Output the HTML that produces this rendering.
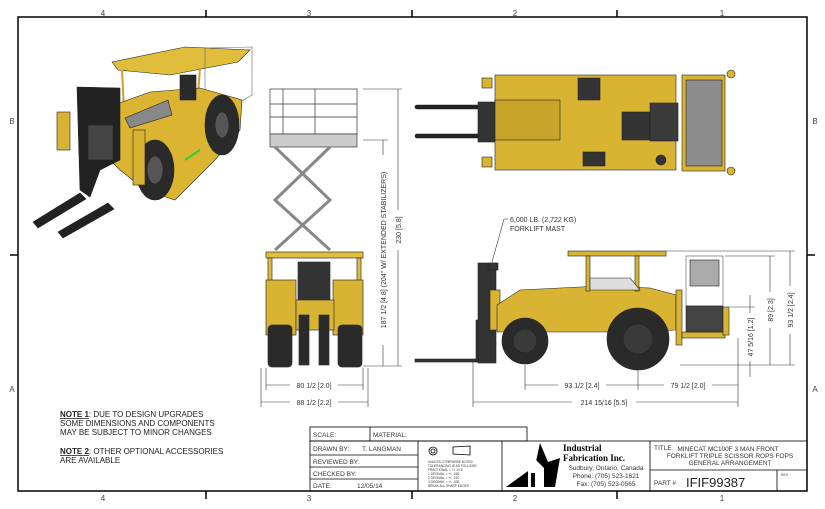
<!DOCTYPE html>
<html><head><meta charset="utf-8"><style>
body{margin:0;background:#fff;}
svg{display:block;font-family:"Liberation Sans",sans-serif;}
</style></head><body>
<svg width="825" height="509" viewBox="0 0 825 509" xmlns="http://www.w3.org/2000/svg">
<!-- frame -->
<rect x="18" y="17" width="789" height="474" fill="none" stroke="#000" stroke-width="1.5"/>
<g stroke="#000" stroke-width="1.5">
<line x1="206" y1="10" x2="206" y2="17"/><line x1="412" y1="10" x2="412" y2="17"/><line x1="617" y1="10" x2="617" y2="17"/>
<line x1="206" y1="491" x2="206" y2="499"/><line x1="412" y1="491" x2="412" y2="499"/><line x1="617" y1="491" x2="617" y2="499"/>
<line x1="10" y1="255" x2="18" y2="255"/><line x1="807" y1="255" x2="815" y2="255"/>
</g>
<g font-size="8" fill="#444" text-anchor="middle">
<text x="103" y="16">4</text><text x="309" y="16">3</text><text x="515" y="16">2</text><text x="722" y="16">1</text>
<text x="103" y="501">4</text><text x="309" y="501">3</text><text x="515" y="501">2</text><text x="722" y="501">1</text>
<text x="12" y="124">B</text><text x="815" y="124">B</text><text x="12" y="392">A</text><text x="815" y="392">A</text>
</g>

<!-- ISO VIEW -->
<g stroke="#222" stroke-width="0.6">
<polygon points="112,62 185,47 250,50 238,62 170,75 118,70" fill="#e0bd3a"/>
<polygon points="205,48 252,47 252,95 235,105 205,95" fill="none" stroke="#666"/>
<line x1="122" y1="70" x2="124" y2="110" stroke="#c9a52a" stroke-width="2"/>
<line x1="200" y1="68" x2="198" y2="95" stroke="#c9a52a" stroke-width="2"/>
<polygon points="100,110 150,92 200,88 242,100 240,130 215,160 175,200 145,190 120,170 100,150" fill="#dbb532"/>
<polygon points="125,118 168,100 172,115 130,128" fill="#888"/>
<rect x="180" y="75" width="16" height="25" fill="#2a2a2a"/>
<ellipse cx="222" cy="125" rx="17" ry="30" fill="#2a2a2a"/>
<ellipse cx="222" cy="125" rx="7" ry="13" fill="#555"/>
<ellipse cx="155" cy="170" rx="19" ry="30" fill="#2a2a2a"/>
<ellipse cx="155" cy="170" rx="8" ry="14" fill="#555"/>
<polygon points="77,87 120,88 120,160 100,170 90,197 80,190" fill="#222"/>
<rect x="88" y="125" width="25" height="35" fill="#444"/>
<rect x="57" y="112" width="13" height="38" fill="#d8b232"/>
<rect x="133" y="130" width="12" height="55" fill="#d8b232"/>
<polygon points="33,222 80,193 86,199 38,228" fill="#222"/>
<polygon points="58,232 108,203 114,209 63,238" fill="#222"/>
<line x1="185" y1="160" x2="200" y2="150" stroke="#3c3" stroke-width="2"/>
</g>

<!-- TOP VIEW -->
<g stroke="#222" stroke-width="0.6">
<rect x="415" y="105" width="65" height="4" rx="2" fill="#222"/>
<rect x="415" y="134" width="65" height="4" rx="2" fill="#222"/>
<rect x="478" y="102" width="45" height="40" fill="#333"/>
<rect x="495" y="75" width="181" height="95" fill="#d9b433"/>
<rect x="482" y="78" width="10" height="10" fill="#d9b433"/><rect x="482" y="157" width="10" height="10" fill="#d9b433"/>
<rect x="495" y="100" width="65" height="40" fill="#c9a42b"/>
<rect x="578" y="78" width="22" height="22" fill="#333"/>
<rect x="622" y="112" width="28" height="28" fill="#333"/>
<rect x="650" y="103" width="28" height="38" fill="#3a3a3a"/>
<rect x="583" y="152" width="22" height="14" fill="#333"/>
<circle cx="661" cy="160" r="5" fill="#333"/>
<rect x="682" y="75" width="43" height="96" fill="#d9b433"/>
<rect x="686" y="80" width="36" height="86" fill="#8d8d8d"/>
<circle cx="731" cy="74" r="4" fill="#d9b433"/><circle cx="731" cy="171" r="4" fill="#d9b433"/>
</g>

<!-- FRONT VIEW -->
<g stroke="#333" stroke-width="0.7">
<rect x="270" y="89" width="87" height="45" fill="none"/>
<line x1="283" y1="89" x2="283" y2="134"/><line x1="315" y1="89" x2="315" y2="134"/>
<line x1="270" y1="104" x2="357" y2="104"/><line x1="270" y1="117" x2="357" y2="117"/>
<rect x="270" y="134" width="87" height="13" fill="#ccc"/>
<g stroke="#888" stroke-width="3" fill="none">
<polyline points="275,147 330,200 275,250"/><polyline points="330,147 275,200 330,250"/>
</g>
<rect x="266" y="252" width="97" height="6" fill="#e0bd3a"/>
<rect x="268" y="258" width="4" height="40" fill="#e0bd3a"/><rect x="357" y="258" width="4" height="40" fill="#e0bd3a"/>
<rect x="266" y="280" width="30" height="55" fill="#d9b433"/><rect x="333" y="280" width="30" height="55" fill="#d9b433"/>
<rect x="268" y="325" width="24" height="42" rx="4" fill="#2a2a2a"/><rect x="338" y="325" width="24" height="42" rx="4" fill="#2a2a2a"/>
<rect x="298" y="262" width="32" height="40" fill="#333"/>
<rect x="296" y="300" width="38" height="30" fill="#d9b433"/>
<rect x="299" y="315" width="10" height="50" fill="#2a2a2a"/><rect x="319" y="315" width="10" height="50" fill="#2a2a2a"/>
</g>

<!-- SIDE VIEW -->
<g stroke="#222" stroke-width="0.6">
<rect x="415" y="359" width="65" height="3" fill="#333"/>
<rect x="476" y="320" width="5" height="42" fill="#333"/>
<rect x="478" y="263" width="18" height="100" fill="#333"/>
<rect x="488" y="263" width="10" height="7" fill="#333"/>
<rect x="490" y="290" width="10" height="40" fill="#d9b433"/>
<polygon points="497,305 520,290 600,286 650,288 676,295 676,330 620,332 560,332 497,332" fill="#d9b433"/>
<rect x="568" y="251" width="98" height="5" fill="#d9b433"/>
<rect x="586" y="256" width="4" height="35" fill="#d9b433"/><rect x="635" y="256" width="4" height="35" fill="#d9b433"/>
<polygon points="590,278 630,278 640,290 590,290" fill="#ddd"/>
<circle cx="525" cy="341" r="23" fill="#2a2a2a"/><circle cx="525" cy="341" r="12" fill="#3a3a3a"/>
<circle cx="638" cy="339" r="31" fill="#2a2a2a"/><circle cx="638" cy="339" r="15" fill="#3a3a3a"/>
<rect x="676" y="290" width="6" height="55" fill="#d9b433"/>
<rect x="682" y="332" width="43" height="6" fill="#d9b433"/>
<rect x="686" y="256" width="37" height="50" fill="none" stroke="#555"/>
<rect x="690" y="260" width="29" height="26" fill="#aaa"/>
<rect x="686" y="306" width="37" height="26" fill="#444"/>
<rect x="723" y="307" width="6" height="28" fill="#d9b433"/>
</g>
<g font-size="7" fill="#333">
<text x="510" y="222">6,000 LB. (2,722 KG)</text>
<text x="510" y="231">FORKLIFT MAST</text>
</g>
<polyline points="508,219 504,219 492,262" fill="none" stroke="#333" stroke-width="0.6"/>

<!-- dimension lines -->
<g stroke="#333" stroke-width="0.6" fill="none">
<line x1="363" y1="89" x2="402" y2="89"/><line x1="363" y1="140" x2="388" y2="140"/><line x1="363" y1="366" x2="402" y2="366"/>
<line x1="383" y1="140" x2="383" y2="366"/><line x1="398" y1="89" x2="398" y2="366"/>
<line x1="266" y1="368" x2="266" y2="390"/><line x1="363" y1="368" x2="363" y2="390"/>
<line x1="261" y1="368" x2="261" y2="407"/><line x1="368" y1="368" x2="368" y2="407"/>
<line x1="266" y1="385" x2="363" y2="385"/><line x1="261" y1="402" x2="368" y2="402"/>
<line x1="525" y1="365" x2="525" y2="390"/><line x1="638" y1="370" x2="638" y2="390"/><line x1="738" y1="338" x2="738" y2="407"/>
<line x1="473" y1="362" x2="473" y2="407"/>
<line x1="525" y1="385" x2="738" y2="385"/><line x1="473" y1="402" x2="738" y2="402"/>
<line x1="666" y1="251" x2="795" y2="251"/><line x1="725" y1="256" x2="775" y2="256"/><line x1="730" y1="307" x2="755" y2="307"/><line x1="680" y1="365" x2="795" y2="365"/>
<line x1="750" y1="295" x2="750" y2="377"/><line x1="770" y1="256" x2="770" y2="365"/><line x1="790" y1="251" x2="790" y2="365"/>
</g>
<g font-size="7" fill="#333" text-anchor="middle">
<rect x="290" y="381" width="48" height="8" fill="#fff"/><text x="314" y="388">80 1/2 [2.0]</text>
<rect x="290" y="398" width="48" height="8" fill="#fff"/><text x="314" y="405">88 1/2 [2.2]</text>
<rect x="558" y="381" width="48" height="8" fill="#fff"/><text x="582" y="388">93 1/2 [2.4]</text>
<rect x="664" y="381" width="48" height="8" fill="#fff"/><text x="688" y="388">79 1/2 [2.0]</text>
<rect x="572" y="398" width="64" height="8" fill="#fff"/><text x="604" y="405">214 15/16 [5.5]</text>
<g transform="translate(386,250) rotate(-90)"><rect x="-95" y="-6" width="190" height="8" fill="#fff"/><text x="0" y="0">187 1/2 [4.8] (204" W/ EXTENDED STABILIZERS)</text></g>
<g transform="translate(401,230) rotate(-90)"><rect x="-20" y="-6" width="40" height="8" fill="#fff"/><text x="0" y="0">230 [5.8]</text></g>
<g transform="translate(753,337) rotate(-90)"><rect x="-24" y="-6" width="48" height="8" fill="#fff"/><text x="0" y="0">47 5/16 [1.2]</text></g>
<g transform="translate(773,310) rotate(-90)"><rect x="-18" y="-6" width="36" height="8" fill="#fff"/><text x="0" y="0">89 [2.3]</text></g>
<g transform="translate(793,310) rotate(-90)"><rect x="-24" y="-6" width="48" height="8" fill="#fff"/><text x="0" y="0">93 1/2 [2.4]</text></g>
</g>

<!-- notes -->
<g font-size="8" fill="#222">
<text x="60" y="417"><tspan font-weight="bold" text-decoration="underline">NOTE 1</tspan>: DUE TO DESIGN UPGRADES</text>
<text x="60" y="426">SOME DIMENSIONS AND COMPONENTS</text>
<text x="60" y="435">MAY BE SUBJECT TO MINOR CHANGES</text>
<text x="60" y="454"><tspan font-weight="bold" text-decoration="underline">NOTE 2</tspan>: OTHER OPTIONAL ACCESSORIES</text>
<text x="60" y="463">ARE AVAILABLE</text>
</g>

<!-- title block -->
<g stroke="#000" stroke-width="0.8" fill="none">
<rect x="310" y="427" width="217" height="14"/>
<line x1="370" y1="427" x2="370" y2="441"/>
<rect x="310" y="441" width="497" height="50"/>
<line x1="418" y1="441" x2="418" y2="491"/><line x1="502" y1="441" x2="502" y2="491"/><line x1="650" y1="441" x2="650" y2="491"/>
<line x1="310" y1="455" x2="418" y2="455"/><line x1="310" y1="467" x2="418" y2="467"/><line x1="310" y1="479" x2="418" y2="479"/>
<line x1="650" y1="470" x2="807" y2="470"/><line x1="777" y1="470" x2="777" y2="491"/>
<line x1="807" y1="417" x2="807" y2="441"/>
<circle cx="433" cy="451" r="4"/><circle cx="433" cy="451" r="2"/>
<polygon points="453,447 470,446 470,455 453,454"/>
</g>
<g font-size="6.5" fill="#333">
<text x="313" y="437">SCALE:</text><text x="373" y="437">MATERIAL:</text>
<text x="313" y="451">DRAWN BY:</text><text x="362" y="451">T. LANGMAN</text>
<text x="313" y="464">REVIEWED BY:</text><text x="313" y="476">CHECKED BY:</text>
<text x="313" y="488">DATE:</text><text x="357" y="488">12/05/14</text>
<text x="654" y="450">TITLE</text>
<text x="728" y="451" text-anchor="middle">MINECAT MC100F 3 MAN  FRONT</text>
<text x="730" y="458" text-anchor="middle">FORKLIFT TRIPLE SCISSOR ROPS FOPS</text>
<text x="730" y="465" text-anchor="middle">GENERAL ARRANGEMENT</text>
<text x="654" y="485">PART #</text>
<text x="781" y="476" font-size="3.5">REV</text>
</g>
<text x="686" y="487" font-size="13" fill="#222">IFIF99387</text>
<g font-size="3.2" fill="#333">
<text x="428" y="463">UNLESS OTHERWISE NOTED</text><text x="428" y="467">TOLERANCING IS AS FOLLOWS:</text>
<text x="428" y="471">FRACTIONAL = +/- 1/16</text><text x="428" y="475">1 DECIMAL = +/- .030</text>
<text x="428" y="479">2 DECIMAL = +/- .010</text><text x="428" y="483">3 DECIMAL = +/- .005</text>
<text x="428" y="487">BREAK ALL SHARP EDGES</text>
</g>
<!-- logo -->
<polygon points="506,487 535,466 540,443 548,462 560,458 555,487" fill="#000"/>
<polygon points="528,487 528,468 536,460 544,468 544,487" fill="#fff"/>
<rect x="531" y="473" width="4" height="14" fill="#000"/>
<g font-family="Liberation Serif,serif" font-weight="bold" font-size="9" fill="#000">
<text x="563" y="451">Industrial</text><text x="563" y="461">Fabrication Inc.</text>
</g>
<g font-size="6.5" fill="#333" text-anchor="middle">
<text x="606" y="470">Sudbury, Ontario, Canada</text>
<text x="606" y="478">Phone: (705) 523-1621</text>
<text x="606" y="486">Fax: (705) 523-0565</text>
</g>
</svg>
</body></html>
